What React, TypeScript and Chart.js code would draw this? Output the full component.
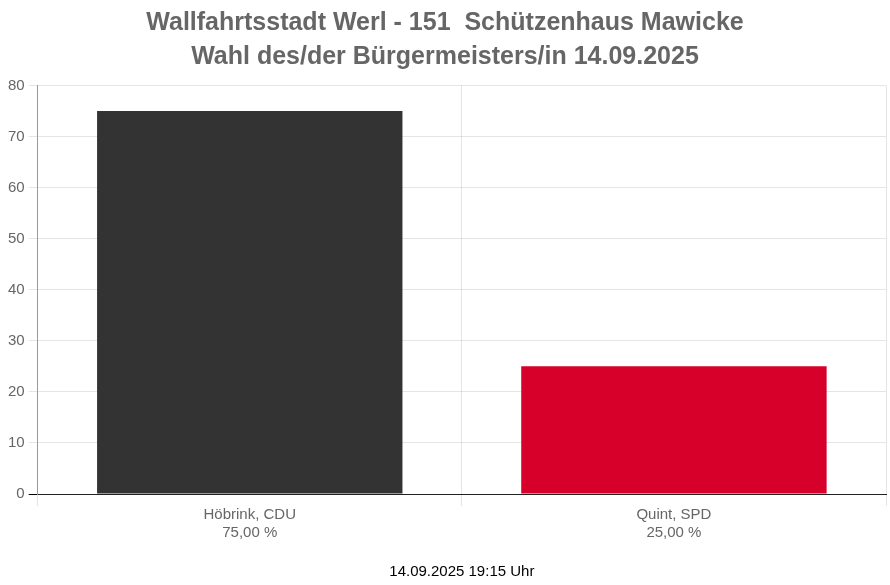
import React, { useEffect, useRef } from "react";
import { Chart, registerables } from "chart.js";

Chart.register(...registerables);

const titleLines = ["Wallfahrtsstadt Werl - 151  Schützenhaus Mawicke", "Wahl des/der Bürgermeisters/in 14.09.2025"];
const candidates = ["Höbrink, CDU", "Quint, SPD"];
const percentLabels = ["75,00 %", "25,00 %"];
const values = [75, 25];
const barColors = ["#333333", "#d7002a"];
const footerText = "14.09.2025 19:15 Uhr";

const FONT = "Liberation Sans, Arial, sans-serif";

export default function App() {
  const ref = useRef<HTMLCanvasElement | null>(null);
  useEffect(() => {
    document.body.style.margin = "0";
    const ctx = ref.current!;
    const chart = new Chart(ctx, {
      type: "bar",
      data: {
        labels: candidates.map((c, i) => [c, percentLabels[i]]),
        datasets: [
          {
            data: values,
            backgroundColor: barColors,
            borderWidth: 0,
          },
        ],
      },
      options: {
        responsive: false,
        animation: false,
        layout: { padding: { left: 4, right: 4, top: 0, bottom: 4 } },
        plugins: {
          legend: { display: false },
          tooltip: { enabled: false },
          title: {
            display: true,
            text: titleLines,
            color: "#666666",
            font: { family: FONT, size: 25, weight: "bold", lineHeight: 1.35 },
            padding: { top: 6, bottom: 12 },
          },
          subtitle: {
            display: true,
            position: "bottom",
            fullSize: false,
            text: footerText,
            color: "#000000",
            font: { family: FONT, size: 15, lineHeight: 1.2 },
            padding: { top: 21, bottom: 0 },
          },
        },
        scales: {
          x: {
            grid: { offset: true, color: "rgba(0,0,0,0.1)", tickLength: 12 },
            border: { color: "#222222" },
            ticks: {
              color: "#666666",
              font: { family: FONT, size: 15, lineHeight: 1.2 },
              padding: 0,
            },
          },
          y: {
            min: 0,
            max: 80,
            grid: {
              color: (c: any) => (c.tick && c.tick.value === 0 ? "#000000" : "rgba(0,0,0,0.1)"),
              tickLength: 9,
            },
            border: { color: "#999999" },
            ticks: {
              stepSize: 10,
              color: "#666666",
              font: { family: FONT, size: 15 },
              padding: 4,
            },
          },
        },
      },
    });
    return () => chart.destroy();
  }, []);
  return <canvas ref={ref} width={890} height={585} style={{ display: "block" }} />;
}
